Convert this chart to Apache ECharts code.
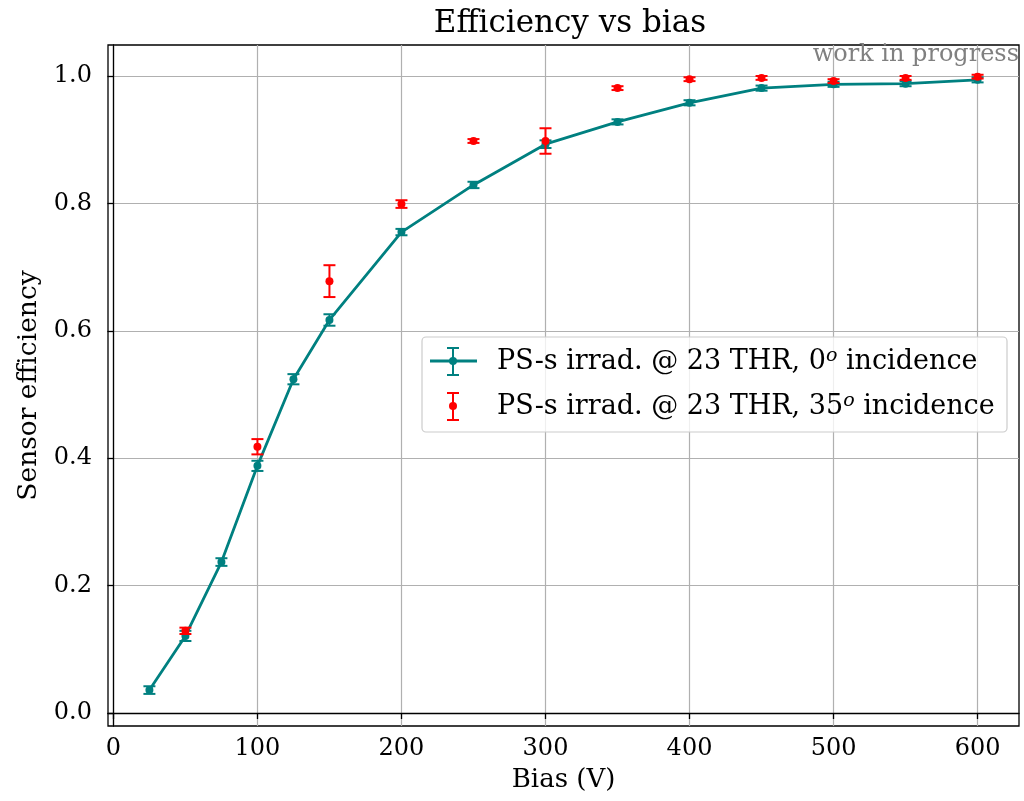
<!DOCTYPE html>
<html>
<head>
<meta charset="utf-8">
<script src="https://cdn.jsdelivr.net/npm/echarts@6/dist/echarts.min.js"></script>
<style>html,body{margin:0;padding:0;background:#fff}#c{width:1024px;height:801px}</style>
</head>
<body>
<div id="c"></div>
<script>
// ---- data ----
const biasA = [25, 50, 75, 100, 125, 150, 200, 250, 300, 350, 400, 450, 500, 550, 600];
const effA  = [0.036, 0.121, 0.237, 0.388, 0.524, 0.617, 0.755, 0.829, 0.893, 0.928, 0.958, 0.981, 0.987, 0.988, 0.994];
const errA  = [0.006, 0.008, 0.006, 0.008, 0.008, 0.009, 0.005, 0.005, 0.006, 0.004, 0.004, 0.004, 0.004, 0.004, 0.004];
const biasB = [50, 100, 150, 200, 250, 300, 350, 400, 450, 500, 550, 600];
const effB  = [0.129, 0.418, 0.678, 0.799, 0.898, 0.898, 0.981, 0.995, 0.997, 0.992, 0.997, 0.999];
const errB  = [0.005, 0.012, 0.025, 0.006, 0.003, 0.020, 0.003, 0.003, 0.003, 0.003, 0.003, 0.003];
const xTicks = [0, 100, 200, 300, 400, 500, 600];
const yTicks = [0.0, 0.2, 0.4, 0.6, 0.8, 1.0];
const nameA = 'PS-s irrad. @ 23 THR, 0';
const nameB = 'PS-s irrad. @ 23 THR, 35';
const teal = '#008080', red = '#ff0000';
const FONT = '"DejaVu Serif", serif';

function errRender(color, withDot) {
  return function (params, api) {
    const x = api.value(0), y = api.value(1), e = api.value(2);
    const p = api.coord([x, y]);
    const t = api.coord([x, y + e]);
    const b = api.coord([x, y - e]);
    const cw = 6;
    const st = { stroke: color, lineWidth: 2 };
    const ch = [
      { type: 'line', shape: { x1: p[0], y1: t[1], x2: p[0], y2: b[1] }, style: st },
      { type: 'line', shape: { x1: p[0] - cw, y1: t[1], x2: p[0] + cw, y2: t[1] }, style: st },
      { type: 'line', shape: { x1: p[0] - cw, y1: b[1], x2: p[0] + cw, y2: b[1] }, style: st }
    ];
    if (withDot) ch.push({ type: 'circle', shape: { cx: p[0], cy: p[1], r: 4 }, style: { fill: color } });
    return { type: 'group', children: ch };
  };
}

const chart = echarts.init(document.getElementById('c'), null, { renderer: 'canvas' });
const lx = 422, ly = 337;
const supStyle = { fontFamily: FONT, fontSize: 19, fontStyle: 'italic', fill: '#000', padding: [0, 0, 12, 0] };
chart.setOption({
  animation: false,
  backgroundColor: '#fff',
  title: {
    text: 'Efficiency vs bias', left: 565, top: 3, textAlign: 'center',
    textStyle: { fontFamily: FONT, fontSize: 31, fontWeight: 'normal', color: '#000' }
  },
  grid: { left: 108, top: 45, right: 5, bottom: 75, show: true, borderColor: '#000', borderWidth: 1.3, backgroundColor: 'transparent' },
  xAxis: {
    type: 'value', min: -3.75, max: 628.75,
    name: 'Bias (V)', nameLocation: 'middle', nameGap: 41,
    nameTextStyle: { fontFamily: FONT, fontSize: 26, color: '#000' },
    axisLine: { show: true, lineStyle: { color: '#000', width: 1.3 } },
    axisTick: { show: true, inside: false, length: 6, lineStyle: { color: '#000', width: 1.3 }, customValues: xTicks },
    axisLabel: { customValues: xTicks, fontFamily: FONT, fontSize: 24, color: '#000', margin: 11, formatter: v => String(Math.round(v)) },
    splitLine: { show: true, lineStyle: { color: '#b0b0b0', width: 1.2 } }
  },
  yAxis: {
    type: 'value', min: -0.0204, max: 1.0487,
    name: 'Sensor efficiency', nameLocation: 'middle', nameGap: 63, nameRotate: 90,
    nameTextStyle: { fontFamily: FONT, fontSize: 26.5, color: '#000' },
    axisLine: { show: true, lineStyle: { color: '#000', width: 1.3 } },
    axisTick: { show: true, inside: false, length: 6, lineStyle: { color: '#000', width: 1.3 }, customValues: yTicks },
    axisLabel: { customValues: yTicks, fontFamily: FONT, fontSize: 24, color: '#000', margin: 16, formatter: v => v.toFixed(1) },
    splitLine: { show: true, lineStyle: { color: '#b0b0b0', width: 1.2 } }
  },
  series: [
    {
      type: 'line', name: nameA, data: biasA.map((x, i) => [x, effA[i]]),
      symbol: 'circle', symbolSize: 8, itemStyle: { color: teal }, lineStyle: { color: teal, width: 2.8 }, z: 3
    },
    {
      type: 'custom', name: nameA + 'err', data: biasA.map((x, i) => [x, effA[i], errA[i]]),
      renderItem: errRender(teal, false), z: 4
    },
    {
      type: 'custom', name: nameB, data: biasB.map((x, i) => [x, effB[i], errB[i]]),
      renderItem: errRender(red, true), z: 5
    }
  ],
  graphic: [
    { type: 'text', right: 5, top: 43, style: { text: 'work in progress', fontFamily: FONT, fontSize: 24, fill: '#808080' }, z: 10 },
    { type: 'rect', shape: { x: lx, y: ly, width: 585, height: 95, r: 4 }, style: { fill: 'rgba(255,255,255,0.8)', stroke: '#cccccc', lineWidth: 1.2 }, z: 20 },
    { type: 'line', shape: { x1: lx + 8, y1: ly + 24, x2: lx + 55, y2: ly + 24 }, style: { stroke: teal, lineWidth: 2.8 }, z: 21 },
    { type: 'line', shape: { x1: lx + 31, y1: ly + 11, x2: lx + 31, y2: ly + 38 }, style: { stroke: teal, lineWidth: 2 }, z: 21 },
    { type: 'line', shape: { x1: lx + 25, y1: ly + 11, x2: lx + 37, y2: ly + 11 }, style: { stroke: teal, lineWidth: 2 }, z: 21 },
    { type: 'line', shape: { x1: lx + 25, y1: ly + 38, x2: lx + 37, y2: ly + 38 }, style: { stroke: teal, lineWidth: 2 }, z: 21 },
    { type: 'circle', shape: { cx: lx + 31, cy: ly + 24, r: 4 }, style: { fill: teal }, z: 21 },
    { type: 'line', shape: { x1: lx + 31, y1: ly + 56, x2: lx + 31, y2: ly + 83 }, style: { stroke: red, lineWidth: 2 }, z: 21 },
    { type: 'line', shape: { x1: lx + 25, y1: ly + 56, x2: lx + 37, y2: ly + 56 }, style: { stroke: red, lineWidth: 2 }, z: 21 },
    { type: 'line', shape: { x1: lx + 25, y1: ly + 83, x2: lx + 37, y2: ly + 83 }, style: { stroke: red, lineWidth: 2 }, z: 21 },
    { type: 'circle', shape: { cx: lx + 31, cy: ly + 69, r: 4 }, style: { fill: red }, z: 21 },
    { type: 'text', x: lx + 75, y: ly + 25, style: {
        text: nameA + '{sup|o} incidence', fontFamily: FONT, fontSize: 27, fill: '#000', verticalAlign: 'middle',
        rich: { sup: supStyle } }, z: 22 },
    { type: 'text', x: lx + 75, y: ly + 70, style: {
        text: nameB + '{sup|o} incidence', fontFamily: FONT, fontSize: 27, fill: '#000', verticalAlign: 'middle',
        rich: { sup: supStyle } }, z: 22 }
  ]
});
</script>
</body>
</html>
